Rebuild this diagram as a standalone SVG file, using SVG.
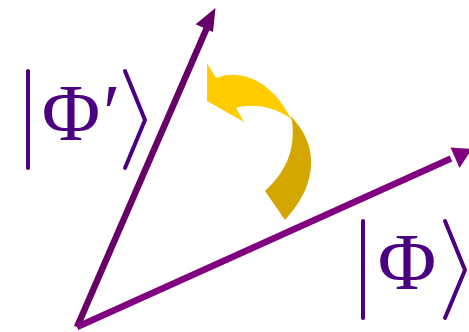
<svg xmlns="http://www.w3.org/2000/svg" width="469" height="332" viewBox="0 0 469 332">
<style>
.ket{fill:none;stroke:#4B0082;stroke-width:4;stroke-linecap:round;stroke-linejoin:miter}
.sym{font-family:"Liberation Serif","DejaVu Serif",serif;font-size:80px;fill:#4B0082}
</style>
<rect width="469" height="332" fill="#ffffff"/>
<g id="connectors">
<line x1="77" y1="327" x2="206.5" y2="28.8" stroke="#660066" stroke-width="6.5"/>
<polygon points="215.5,8 195.6,24.2 213,32" fill="#660066"/>
<line x1="77" y1="327" x2="451" y2="158.5" stroke="#800080" stroke-width="6.5"/>
<polygon points="472,149 450.5,147.5 459.5,168" fill="#800080"/>
</g>
<g id="rotation-arrow">
<path d="M207,63 L216,78 C240,68 272,80 291,119 C275,106 250,103 236,108 L244,122 L207,101 Z" fill="#FFCC00"/>
<path d="M290,116 C314,138 324,178 285,220 L265,191 C285,173 296,150 292,121 Z" fill="#D4A600"/>
</g>
<g id="ket-phi-prime">
<line class="ket" x1="28" y1="71" x2="28" y2="168"/>
<text class="sym" x="71" y="140" text-anchor="middle">Φ</text>
<text class="sym" x="103" y="140">′</text>
<polyline class="ket" points="125,71 145,120 125,168"/>
</g>
<g id="ket-phi">
<line class="ket" x1="363" y1="221" x2="363" y2="318"/>
<text class="sym" x="407" y="289" text-anchor="middle">Φ</text>
<polyline class="ket" points="445,221 465,270 445,318"/>
</g>
</svg>
